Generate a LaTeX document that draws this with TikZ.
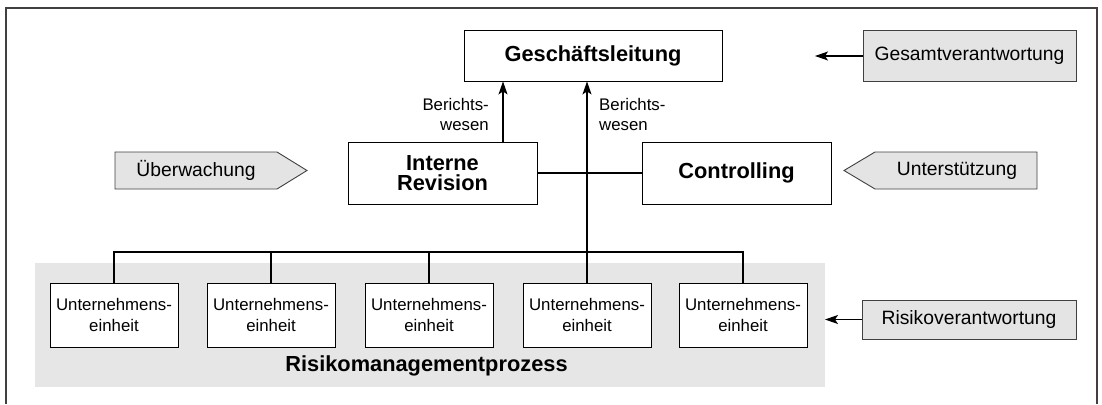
\documentclass[tikz,border=0pt]{standalone}
\usepackage{fontspec}
\setmainfont{Liberation Sans}
\usetikzlibrary{arrows.meta,calc}
\definecolor{boxgray}{HTML}{E4E4E4}
\definecolor{areagray}{HTML}{E6E6E6}
\definecolor{framegray}{HTML}{404040}
\begin{document}
\begin{tikzpicture}[x=1pt,y=-1pt,
  box/.style={draw, line width=0.9pt, fill=white, inner sep=0pt},
  bigbox/.style={box, font=\fontsize{21.8}{19.5}\selectfont\bfseries, align=center},
  unitbox/.style={box, minimum width=128pt, minimum height=64pt, font=\fontsize{16.8}{21}\selectfont, align=center},
  sidebox/.style={draw=framegray, line width=0.9pt, fill=boxgray, inner sep=0pt, font=\fontsize{19.3}{22}\selectfont},
  sidelabel/.style={font=\fontsize{19.3}{22}\selectfont, inner sep=0pt},
  note/.style={font=\fontsize{16.8}{20}\selectfont, inner sep=0pt},
  arr/.style={line width=1.1pt, -{Stealth[length=13pt,width=9pt,inset=3pt]}},
  line/.style={line width=1.1pt}
]
\useasboundingbox (0,0) rectangle (1102,404);
% frame
\draw[line width=1.6pt, framegray] (6,404) -- (6,8) -- (1097,8) -- (1097,404);
% process area
\node[fill=areagray, inner sep=0pt, minimum width=790pt, minimum height=124pt] (proc) at (430,325) {};
\node[font=\fontsize{21.8}{22}\selectfont\bfseries, inner sep=0pt, anchor=base] (proclabel) at (426.5,371) {Risikomanagementprozess};
% main boxes
\node[bigbox, minimum width=258pt, minimum height=51pt] (gl) at (593,55.5) {Geschäftsleitung};
\node[bigbox, minimum width=189pt, minimum height=62pt] (ir) at (442.5,173) {Interne\\Revision};
\node[bigbox, minimum width=189pt, minimum height=62pt] (co) at (736.5,173) {Controlling};
% units
\node[unitbox] (u1) at (114,315) {Unternehmens-\\einheit};
\node[unitbox] (u2) at (271,315) {Unternehmens-\\einheit};
\node[unitbox] (u3) at (429,315) {Unternehmens-\\einheit};
\node[unitbox] (u4) at (587,315) {Unternehmens-\\einheit};
\node[unitbox] (u5) at (743,315) {Unternehmens-\\einheit};
\coordinate (bus) at (0,252);
% connectors
\draw[line] (u1.north) -- (u1.north |- bus) -- (u5.north |- bus) -- (u5.north);
\draw[line] (u2.north) -- (u2.north |- bus);
\draw[line] (u3.north) -- (u3.north |- bus);
\draw[line] (ir.east) -- (co.west);
\draw[arr] (u4.north) -- (u4.north |- gl.south);
\coordinate (irtop) at ([xshift=60.5pt]ir.north);
\draw[arr] (irtop) -- (irtop |- gl.south);
% labels
\node[note, anchor=east, align=right] (bw1) at (489,114) {Berichts-\\wesen};
\node[note, anchor=west, align=left] (bw2) at (599,114) {Berichts-\\wesen};
% side labels
\draw[draw=framegray, line width=0.9pt, fill=boxgray] (115,152) -- (277,152) -- (307,170.5) -- (277,189) -- (115,189) -- cycle;
\node[sidelabel] (uw) at (196,170.5) {Überwachung};
\draw[draw=framegray, line width=0.9pt, fill=boxgray] (1037,152) -- (875,152) -- (844,170.5) -- (875,189) -- (1037,189) -- cycle;
\node[sidelabel] (us) at (957,170.5) {Unterstützung};
\node[sidebox, minimum width=213pt, minimum height=51pt] (gv) at (969.5,56) {Gesamtverantwortung};
\coordinate (gvtip) at (815,56);
\draw[arr] (gv.west) -- (gvtip);
\node[sidebox, minimum width=214pt, minimum height=39pt] (rv) at (969,319.5) {Risikoverantwortung};
\coordinate (rvtip) at (825,319.5);
\draw[arr] (rv.west) -- (rvtip);
\end{tikzpicture}
\end{document}
